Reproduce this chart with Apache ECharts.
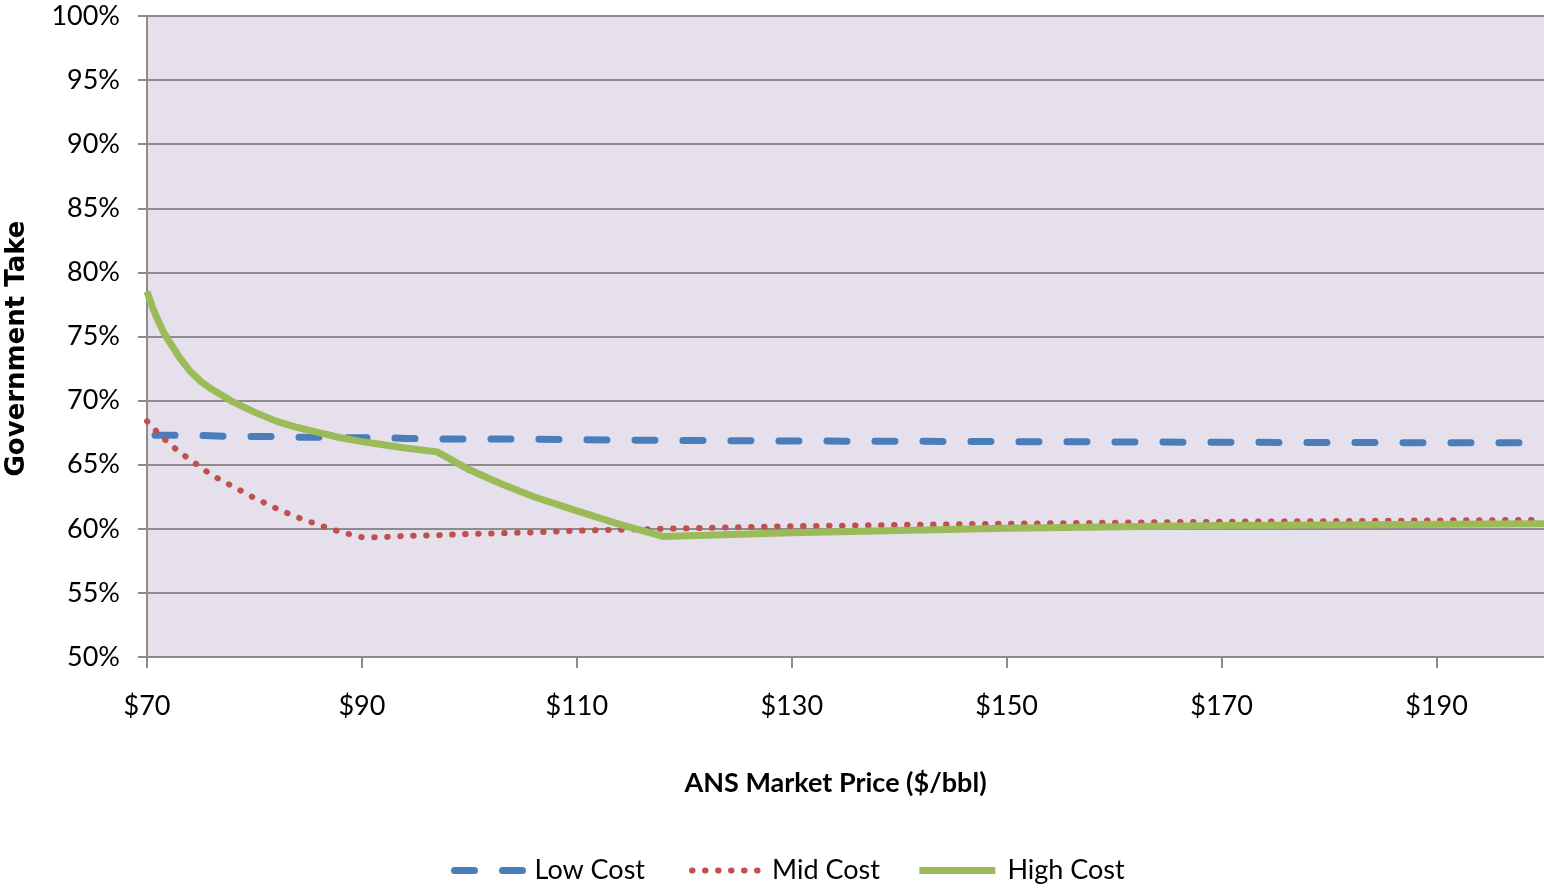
<!DOCTYPE html>
<html>
<head>
<meta charset="utf-8">
<script src="https://cdn.jsdelivr.net/npm/echarts@6/dist/echarts.min.js"></script>
<style>
  html, body { margin: 0; padding: 0; background: #fff; }
  #chart { width: 1544px; height: 889px; }
</style>
</head>
<body>
<div id="chart"></div>
<script>
// ANS market price ($/bbl)
const prices = [70, 71, 72, 73, 74, 76, 78, 80, 82, 84, 86, 88, 90, 92, 94, 97, 100, 105, 110, 118, 130, 150, 170, 200];
const highPrices = [70, 70.5, 71, 71.5, 72, 73, 74, 75, 76, 78, 80, 82, 84, 86, 88, 90, 92, 94, 97, 100, 103, 106, 110, 114, 118, 130, 150, 170, 200];
// government take (%)
const lowCost = [67.3, 67.3, 67.3, 67.3, 67.3, 67.25, 67.2, 67.2, 67.2, 67.15, 67.15, 67.1, 67.1, 67.1, 67.05, 67.0, 67.0, 67.0, 66.95, 66.9, 66.85, 66.8, 66.75, 66.7];
const midCost = [68.4, 67.5, 66.7, 66.0, 65.4, 64.2, 63.3, 62.4, 61.6, 60.9, 60.3, 59.75, 59.35, 59.35, 59.45, 59.5, 59.6, 59.7, 59.85, 60.0, 60.2, 60.4, 60.55, 60.7];
const highCost = [78.5, 77.3, 76.3, 75.4, 74.7, 73.4, 72.3, 71.5, 70.9, 69.9, 69.1, 68.4, 67.9, 67.5, 67.1, 66.8, 66.55, 66.3, 66.0, 64.6, 63.5, 62.5, 61.4, 60.35, 59.4, 59.7, 60.05, 60.25, 60.4];
const seriesNames = ['Low Cost', 'Mid Cost', 'High Cost'];

const pairs = (xs, ys) => xs.map((p, i) => [p, ys[i]]);
const font = 'Lato, "Open Sans", sans-serif';

const chart = echarts.init(document.getElementById('chart'));
chart.setOption({
  animation: false,
  grid: {
    left: 147, top: 16, right: 0, bottom: 232,
    outerBoundsMode: 'none',
    show: true, backgroundColor: '#E6E0EC', borderWidth: 0
  },
  legend: {
    data: seriesNames,
    bottom: 0,
    left: 438,
    itemWidth: 76,
    itemHeight: 14,
    itemGap: 36,
    itemStyle: { opacity: 0 },
    lineStyle: { width: 'inherit' },
    textStyle: { fontFamily: font, fontSize: 27, color: '#000', padding: [0, 0, 0, 7] }
  },
  xAxis: {
    type: 'value',
    min: 70,
    max: 200,
    interval: 20,
    name: 'ANS Market Price ($/bbl)',
    nameLocation: 'middle',
    nameGap: 113,
    nameTextStyle: { fontFamily: font, fontSize: 27, fontWeight: 'bold', color: '#000', padding: [0, 20, 0, 0] },
    axisLine: { lineStyle: { color: '#8C8C8C', width: 2 } },
    axisTick: { length: 11, lineStyle: { color: '#8C8C8C', width: 2 } },
    axisLabel: {
      margin: 36,
      fontFamily: font,
      fontSize: 27,
      color: '#000',
      showMaxLabel: false,
      formatter: v => '$' + v
    },
    splitLine: { show: false }
  },
  yAxis: {
    type: 'value',
    min: 50,
    max: 100,
    interval: 5,
    name: 'Government Take',
    nameLocation: 'middle',
    nameGap: 117,
    nameTextStyle: { fontFamily: '"DejaVu Sans", sans-serif', fontSize: 26, fontWeight: 'bold', color: '#000', padding: [0, 24, 0, 0] },
    axisLine: { show: true, lineStyle: { color: '#8C8C8C', width: 2 } },
    axisTick: { show: true, length: 9, lineStyle: { color: '#8C8C8C', width: 2 } },
    axisLabel: { margin: 27, fontFamily: font, fontSize: 27, color: '#000', formatter: '{value}%' },
    splitLine: { lineStyle: { color: '#8C8C8C', width: 2 } }
  },
  series: [
    {
      name: seriesNames[0],
      type: 'line',
      data: pairs(prices, lowCost),
      symbol: 'none',
      itemStyle: { color: '#4A7EBB' },
      lineStyle: { color: '#4A7EBB', width: 7, type: [20, 28], cap: 'round', dashOffset: -8 }
    },
    {
      name: seriesNames[1],
      type: 'line',
      data: pairs(prices, midCost),
      symbol: 'none',
      itemStyle: { color: '#C0504D' },
      lineStyle: { color: '#C0504D', width: 6, type: [0.5, 12.5], cap: 'round' }
    },
    {
      name: seriesNames[2],
      type: 'line',
      data: pairs(highPrices, highCost),
      symbol: 'none',
      itemStyle: { color: '#9BBB59' },
      lineStyle: { color: '#9BBB59', width: 7, join: 'round' }
    }
  ]
});
</script>
</body>
</html>
